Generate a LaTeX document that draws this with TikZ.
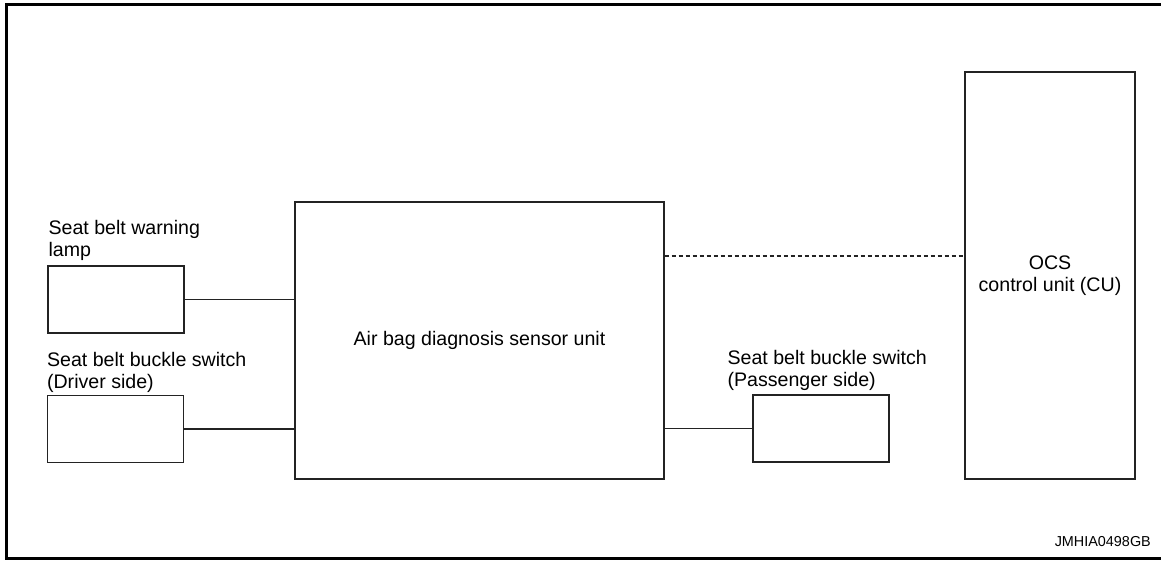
\documentclass[tikz,border=0pt]{standalone}
\usepackage{fontspec}
\setmainfont{Liberation Sans}
\usepackage{tikz}
\usetikzlibrary{positioning,calc}
\definecolor{cLine}{RGB}{35,35,35}
\tikzset{
  basebox/.style={rectangle,draw=cLine,line width=1.3pt,inner sep=0pt},
  unitbox/.style={basebox,minimum width=136pt,minimum height=67pt},
  boxtxt/.style={font=\fontsize{19.6}{22}\selectfont,align=center},
  lbltxt/.style={inner sep=0pt,align=left,font=\fontsize{19.6}{22}\selectfont},
  wire/.style={draw=cLine,line width=1.2pt},
  dashwire/.style={wire,dash pattern=on 4pt off 3pt},
  frameline/.style={draw=black,line width=3pt}
}
\begin{document}
\begin{tikzpicture}[x=1pt,y=1pt]
  \useasboundingbox (0,0) rectangle (1161,561);

  % frame
  \draw[frameline] (1161,556.5) -- (6,556.5) -- (6,2.5) -- (1161,2.5);

  \node[basebox,boxtxt,minimum width=369pt,minimum height=277pt] (adsu) at (479.5,220.5)
      {Air bag diagnosis sensor unit};
  \node[basebox,boxtxt,minimum width=170pt,minimum height=407pt] (ocs) at (1050,285.5)
      {OCS\\control unit (CU)};

  \node[unitbox] (lamp) at (116,261.5) {};
  \node[unitbox] (drv) at (115.5,132) {};
  \node[unitbox] (pass) at (821,132.5) {};

  \node[lbltxt,above right=5pt and 1pt of lamp.north west] (lampl)
      {Seat belt warning\\lamp};
  \node[lbltxt,above right=2pt and 0pt of drv.north west] (drvl)
      {Seat belt buckle switch\\(Driver side)};
  \node[lbltxt,above right=4pt and -25pt of pass.north west] (passl)
      {Seat belt buckle switch\\(Passenger side)};

  \node[inner sep=0pt,anchor=base east,font=\fontsize{14.4}{16}\selectfont] (code)
      at (1151,14) {JMHIA0498GB};

  \draw[wire] (lamp.east) -- (lamp.east -| adsu.west);
  \draw[wire] (drv.east) -- (drv.east -| adsu.west);
  \draw[wire] (pass.west) -- (pass.west -| adsu.east);
  \draw[dashwire] ([yshift=84.5pt]adsu.east) -- ([yshift=84.5pt]adsu.east -| ocs.west);

\end{tikzpicture}
\end{document}
